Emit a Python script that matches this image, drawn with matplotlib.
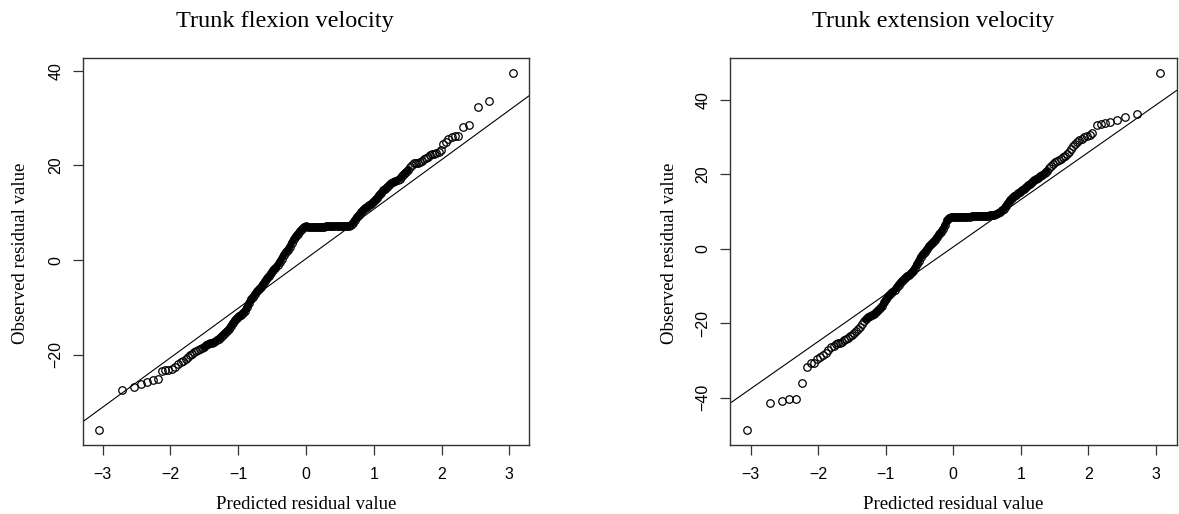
import matplotlib
matplotlib.use("Agg")
import matplotlib.pyplot as plt

# Trunk flexion velocity: predicted (theoretical) vs observed residuals
flex_x = [-3.05, -2.71, -2.54, -2.43, -2.34, -2.25, -2.19, -2.13, -2.08, -2.03,
          -1.98, -1.93, -1.89, -1.85, -1.81, -1.77, -1.74, -1.71, -1.68, -1.65,
          -1.62, -1.59, -1.56, -1.53, -1.50, -1.47, -1.44, -1.41, -1.38, -1.35,
          -1.32, -1.29, -1.26, -1.23, -1.20, -1.17, -1.14, -1.11, -1.08, -1.05,
          -1.02, -0.99, -0.96, -0.93, -0.90, -0.87, -0.84, -0.81, -0.78, -0.75,
          -0.72, -0.69, -0.66, -0.63, -0.60, -0.57, -0.54, -0.51, -0.48, -0.45,
          -0.42, -0.39, -0.36, -0.33, -0.30, -0.27, -0.24, -0.21, -0.18, -0.15,
          -0.12, -0.09, -0.06, -0.03, 0.00, 0.03, 0.06, 0.09, 0.12, 0.15,
          0.18, 0.21, 0.24, 0.27, 0.30, 0.33, 0.36, 0.39, 0.42, 0.45,
          0.48, 0.51, 0.54, 0.57, 0.60, 0.63, 0.66, 0.69, 0.72, 0.75,
          0.78, 0.81, 0.84, 0.87, 0.90, 0.93, 0.96, 0.99, 1.02, 1.05,
          1.08, 1.11, 1.14, 1.17, 1.20, 1.23, 1.26, 1.29, 1.32, 1.35,
          1.38, 1.41, 1.44, 1.47, 1.50, 1.53, 1.56, 1.59, 1.62, 1.65,
          1.68, 1.71, 1.74, 1.77, 1.80, 1.83, 1.86, 1.89, 1.92, 1.96,
          1.99, 2.02, 2.06, 2.10, 2.15, 2.20, 2.24, 2.31, 2.40, 2.53,
          2.70, 3.05]
flex_y = [-35.9, -27.4, -26.8, -26.1, -25.8, -25.3, -25.1, -23.4, -23.3, -23.3,
          -23.0, -22.6, -21.9, -21.6, -21.2, -20.8, -20.4, -20.1, -19.8, -19.5,
          -19.2, -18.9, -18.7, -18.5, -18.3, -18.0, -17.8, -17.6, -17.4, -17.2,
          -16.9, -16.6, -16.2, -15.8, -15.4, -15.0, -14.6, -13.9, -13.3, -12.7,
          -12.2, -11.8, -11.5, -11.1, -10.7, -10.0, -9.1, -8.2, -7.7, -7.1,
          -6.6, -6.1, -5.6, -5.0, -4.4, -3.8, -3.3, -2.7, -2.1, -1.6,
          -1.1, -0.4, 0.3, 1.1, 1.7, 2.2, 2.8, 3.7, 4.4, 5.0,
          5.6, 6.1, 6.6, 7.0, 7.1, 6.9, 6.9, 6.9, 7.0, 7.0,
          7.0, 7.0, 7.0, 7.0, 7.1, 7.1, 7.1, 7.1, 7.1, 7.2,
          7.2, 7.2, 7.2, 7.3, 7.3, 7.3, 7.4, 7.9, 8.5, 9.1,
          9.6, 10.1, 10.6, 11.0, 11.3, 11.6, 11.9, 12.3, 12.7, 13.2,
          13.7, 14.2, 14.7, 15.1, 15.5, 15.9, 16.2, 16.4, 16.7, 16.9,
          17.2, 17.7, 18.2, 18.6, 19.0, 19.6, 20.1, 20.4, 20.5, 20.6,
          20.8, 21.0, 21.3, 21.6, 21.8, 22.1, 22.3, 22.5, 22.7, 22.9,
          23.2, 24.5, 25.0, 25.6, 26.0, 26.1, 26.1, 28.0, 28.5, 32.4,
          33.5, 39.6]

# Trunk extension velocity
ext_x = [-3.06, -2.71, -2.54, -2.43, -2.33, -2.24, -2.17, -2.11, -2.06, -2.01,
         -1.97, -1.93, -1.89, -1.85, -1.81, -1.77, -1.74, -1.71, -1.68, -1.65,
         -1.62, -1.59, -1.56, -1.53, -1.50, -1.47, -1.44, -1.41, -1.38, -1.35,
         -1.32, -1.29, -1.26, -1.23, -1.20, -1.17, -1.14, -1.11, -1.08, -1.05,
         -1.02, -0.99, -0.96, -0.93, -0.90, -0.87, -0.84, -0.81, -0.78, -0.75,
         -0.72, -0.69, -0.66, -0.63, -0.60, -0.57, -0.54, -0.51, -0.48, -0.45,
         -0.42, -0.39, -0.36, -0.33, -0.30, -0.27, -0.24, -0.21, -0.18, -0.15,
         -0.12, -0.09, -0.06, -0.03, 0.00, 0.03, 0.06, 0.09, 0.12, 0.15,
         0.18, 0.21, 0.24, 0.27, 0.30, 0.33, 0.36, 0.39, 0.42, 0.45,
         0.48, 0.51, 0.54, 0.57, 0.60, 0.63, 0.66, 0.69, 0.72, 0.75,
         0.78, 0.81, 0.84, 0.87, 0.90, 0.93, 0.96, 0.99, 1.02, 1.05,
         1.08, 1.11, 1.14, 1.17, 1.20, 1.23, 1.26, 1.29, 1.32, 1.35,
         1.38, 1.41, 1.44, 1.47, 1.50, 1.53, 1.56, 1.59, 1.62, 1.65,
         1.68, 1.71, 1.74, 1.77, 1.80, 1.83, 1.86, 1.90, 1.94, 1.98,
         2.02, 2.06, 2.12, 2.18, 2.24, 2.32, 2.42, 2.54, 2.72, 3.06]
ext_y = [-48.7, -41.3, -40.8, -40.4, -40.2, -35.9, -31.7, -30.8, -30.6, -29.6,
         -29.0, -28.6, -28.0, -27.2, -26.5, -26.0, -25.7, -25.4, -25.2, -24.9,
         -24.6, -24.2, -23.9, -23.5, -23.1, -22.6, -22.2, -21.6, -20.9, -20.2,
         -19.5, -18.9, -18.4, -18.1, -17.8, -17.5, -17.0, -16.5, -16.0, -15.3,
         -14.4, -13.5, -12.8, -12.1, -11.6, -11.1, -10.4, -9.6, -9.0, -8.4,
         -7.9, -7.4, -7.0, -6.6, -6.0, -5.2, -4.2, -3.2, -2.1, -1.4,
         -0.8, -0.2, 0.7, 1.2, 1.8, 2.4, 3.1, 3.9, 4.6, 5.4,
         6.4, 7.6, 8.2, 8.4, 8.5, 8.4, 8.4, 8.5, 8.5, 8.5,
         8.6, 8.6, 8.6, 8.7, 8.7, 8.7, 8.8, 8.8, 8.8, 8.9,
         8.9, 8.9, 9.0, 9.0, 9.1, 9.2, 9.5, 9.9, 10.3, 10.8,
         11.6, 12.3, 13.0, 13.6, 14.1, 14.5, 14.9, 15.3, 15.7, 16.1,
         16.5, 17.0, 17.4, 17.9, 18.4, 18.8, 19.1, 19.4, 19.8, 20.3,
         20.9, 21.6, 22.3, 22.8, 23.2, 23.5, 23.8, 24.2, 24.6, 25.0,
         25.5, 26.0, 26.7, 27.5, 28.2, 28.7, 29.1, 29.5, 29.9, 30.2,
         30.6, 31.0, 33.3, 33.5, 33.7, 34.1, 34.6, 35.3, 36.2, 47.3]

# reference lines (intercept, slope)
flex_line = (0.3, 10.45)
ext_line = (0.5, 12.7)

titles = ["Trunk flexion velocity", "Trunk extension velocity"]
xlabel = "Predicted residual value"
ylabel = "Observed residual value"
xticks = [-3, -2, -1, 0, 1, 2, 3]
yticks_flex = [-20, 0, 20, 40]
yticks_ext = [-40, -20, 0, 20, 40]

W, H = 1179, 514
fig = plt.figure(figsize=(W / 100, H / 100), dpi=100)

serif = "Liberation Serif"
sans = "Liberation Sans"
edge = "#333333"


def r_range(v):
    lo, hi = min(v), max(v)
    d = (hi - lo) * 0.04
    return lo - d, hi + d


def minus(t):
    return "\u2212%d" % -t if t < 0 else str(t)


def panel(left_px, xs, ys, line, yticks, title, title_cx, ylab_cx, core):
    ax = fig.add_axes([left_px / W, 1 - 444.5 / H, 446.6 / W, 386.3 / H])
    # where hundreds of circles pile up they merge into one solid band
    cx = [x for x in xs if core[0] <= x <= core[1]]
    cy = [y for x, y in zip(xs, ys) if core[0] <= x <= core[1]]
    ax.plot(cx, cy, color="black", lw=5.0, solid_capstyle="round",
            solid_joinstyle="round")
    ax.plot(xs, ys, linestyle="none", marker="o", markersize=5.4,
            markerfacecolor="none", markeredgecolor="black",
            markeredgewidth=0.9)
    ax.axline((0, line[0]), slope=line[1], color="black", lw=0.8)
    ax.set_xlim(r_range(xs))
    ax.set_ylim(r_range(ys))
    ax.set_xticks(xticks)
    ax.set_xticklabels([minus(t) for t in xticks], fontfamily=sans, fontsize=11.5)
    ax.set_yticks(yticks)
    ax.set_yticklabels([minus(t) for t in yticks], fontfamily=sans,
                       fontsize=11.5, rotation=90, va="center")
    ax.tick_params(direction="out", length=7, width=0.9, color=edge)
    ax.tick_params(axis="x", pad=9)
    ax.tick_params(axis="y", pad=7)
    for s in ax.spines.values():
        s.set_color(edge)
        s.set_linewidth(1.0)
    fig.text(title_cx / W, 1 - 27 / H, title, ha="center", va="baseline",
             fontfamily=serif, fontsize=17.5)
    fig.text((left_px + 223.3) / W, 1 - 509 / H, xlabel, ha="center",
             va="baseline", fontfamily=serif, fontsize=13.5)
    fig.text(ylab_cx / W, 1 - 253 / H, ylabel, ha="center", va="center",
             rotation=90, fontfamily=serif, fontsize=13.5)
    return ax


panel(82.7, flex_x, flex_y, flex_line, yticks_flex, titles[0], 285, 21, (-1.5, 1.5))
panel(730.0, ext_x, ext_y, ext_line, yticks_ext, titles[1], 933, 670, (-1.3, 1.38))

fig.savefig("out.png", dpi=100)
